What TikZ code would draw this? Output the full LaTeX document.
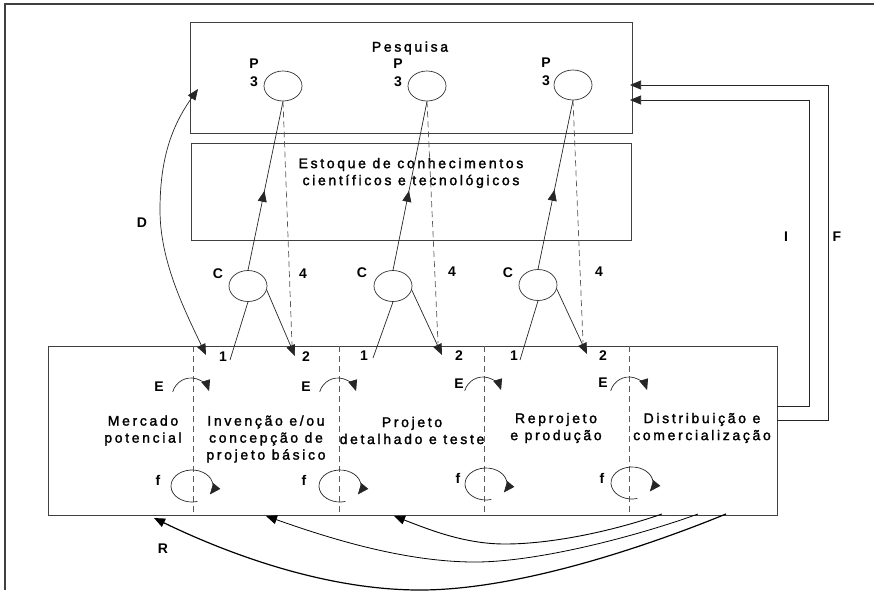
\documentclass[tikz,border=0pt]{standalone}
\usepackage{fontspec}
\setmainfont{Liberation Sans}[LetterSpace=10]
\newfontfamily\bodyf{Liberation Sans}[LetterSpace=19, FakeBold=1.8]
\usetikzlibrary{arrows.meta,shapes.geometric,decorations.markings}
\begin{document}
\begin{tikzpicture}[x=1pt,y=-1pt,
  line/.style={draw=black!85, line width=0.7pt},
  box/.style={draw=black!75, line width=0.8pt, rectangle, inner sep=0pt},
  oval/.style={draw=black!80, line width=0.7pt, ellipse, inner sep=0pt, minimum width=38pt, minimum height=30pt},
  dsh/.style={draw=black!65, line width=0.7pt, dash pattern=on 6pt off 4pt},
  tip/.style={-{Triangle[length=11pt,width=9pt]}},
  lbl/.style={font=\fontsize{14}{16}\selectfont\bfseries, inner sep=0pt},
  txt/.style={font=\bodyf\fontsize{14}{17}\selectfont, align=center, inner sep=0pt},
  midtip/.style={postaction={decorate}, decoration={markings, mark=at position #1 with {\arrow{Triangle[length=11pt,width=9pt]}}}},
  fb/.style={draw=black, line width=#1},
]
\useasboundingbox (0,0) rectangle (874,590);
% outer frame
\draw[black!75, line width=1.8pt] (5,590) -- (5,4) -- (874,4);

% boxes
\node[box, minimum width=442pt, minimum height=111pt] (pesq) at (411,77.5) {};
\node[txt] (pesqt) at (410,48) {Pesquisa};
\node[box, minimum width=440pt, minimum height=97pt] (estq) at (411,191.5) {};
\node[txt] (estqt) at (411,173) {Estoque de conhecimentos\\científicos e tecnológicos};
\node[box, minimum width=729pt, minimum height=169pt] (etap) at (412.5,430.5) {};

% P3 ovals
\node[oval] (p1) at (283,86) {};
\node[oval] (p2) at (427,86) {};
\node[oval] (p3) at (573,85) {};
\foreach \x/\y [count=\i] in {254/64, 398/64, 546/63} {
  \node[lbl] (pl\i) at (\x,\y) {P};
  \node[lbl] (pn\i) at (\x,\y+18) {3};
}

% C ovals
\node[oval, minimum height=31pt] (c1) at (248,286) {};
\node[oval, minimum height=31pt] (c2) at (393,286) {};
\node[oval, minimum height=31pt] (c3) at (538,285) {};
\node[lbl] (cl1) at (218,274) {C};
\node[lbl] (cl2) at (362,273) {C};
\node[lbl] (cl3) at (508,273) {C};
\node[lbl] (f41) at (303,274) {4};
\node[lbl] (f42) at (452,272) {4};
\node[lbl] (f43) at (599,272) {4};

% coordinates at the process box
\coordinate (o1) at (230,360);
\coordinate (o2) at (373,358);
\coordinate (o3) at (520,360);
\coordinate (t1) at (295,356);
\coordinate (t2) at (442,355);
\coordinate (t3) at (587,354);
\coordinate (d1) at (292,345);
\coordinate (d2) at (438,343);
\coordinate (d3) at (583,342);
\node[lbl] (n11) at (223,357) {1};
\node[lbl] (n12) at (364,356) {1};
\node[lbl] (n13) at (514,356) {1};
\node[lbl] (n21) at (306,357) {2};
\node[lbl] (n22) at (459,356) {2};
\node[lbl] (n23) at (603,356) {2};

% lines 1 -> C -> P
\foreach \i in {1,2,3} {
  \draw[line] (o\i) -- (c\i.south);
  \draw[line, midtip=0.47] (c\i.north) -- (p\i.south);
  \draw[line, tip] (c\i.-12) -- (t\i);
  \draw[dsh] (p\i.south) -- (d\i);
}

% dividers
\foreach \x in {193,339,484,629} {
  \draw[dsh] (\x,346) -- (\x,515);
}

% E arcs
\coordinate (e1) at (191,397);
\coordinate (e2) at (338,397);
\coordinate (e3) at (483,396);
\coordinate (e4) at (629,396);
\foreach \i in {1,2,3,4} {
  \draw[line, tip] ([shift={(164:19pt)}]e\i) arc[start angle=164, end angle=18, radius=19pt];
}
\node[lbl] (el1) at (159,387) {E};
\node[lbl] (el2) at (306,387) {E};
\node[lbl] (el3) at (459,384) {E};
\node[lbl] (el4) at (603,383) {E};

% f loops
\coordinate (g1) at (192,486);
\coordinate (g2) at (340,486);
\coordinate (g3) at (486,484);
\coordinate (g4) at (632,483);
\foreach \i in {1,2,3,4} {
  \draw[line, tip] ([shift={(285:21pt and 16pt)}]g\i) arc[start angle=285, end angle=-32, x radius=21pt, y radius=16pt];
}
\node[lbl] (fl1) at (158,480) {f};
\node[lbl] (fl2) at (304,480) {f};
\node[lbl] (fl3) at (458,478) {f};
\node[lbl] (fl4) at (602,478) {f};

% stage texts
\node[txt] (s1) at (143,430.5) {Mercado\\potencial};
\node[txt] (s2) at (266,439) {Invenção e/ou\\concepção de\\projeto básico};
\node[txt] (s3) at (412,430.5) {Projeto\\detalhado e teste};
\node[txt] (s4) at (556,428) {Reprojeto\\e produção};
\node[txt] (s5) at (702,428) {Distribuição e\\comercialização};

% D curve
\coordinate (db) at (206,355);
\coordinate (dt) at (198,89);
\draw[line, {Triangle[length=11pt,width=9pt]}-{Triangle[length=11pt,width=9pt]}]
  (db) .. controls (183,307) and (160,260) .. (160,210) .. controls (160,160) and (171,127) .. (dt);
\node[lbl] (dl) at (142,223) {D};

% I and F feedback
\coordinate (ia) at (777,406);
\coordinate (ib) at (809,406);
\coordinate (ic) at (809,100);
\coordinate (id) at (630,100);
\coordinate (fa) at (777,420);
\coordinate (fbb) at (828,420);
\coordinate (fc) at (828,85);
\coordinate (fd) at (630,85);
\draw[line, tip] (ia) -- (ib) -- (ic) -- (id);
\draw[line, tip] (fa) -- (fbb) -- (fc) -- (fd);
\node[lbl] (il) at (786,237) {I};
\node[lbl] (fl) at (837,237) {F};

% R curves
\coordinate (ra) at (662,514);
\coordinate (rb) at (698,514);
\coordinate (rc) at (726,514);
\coordinate (ta) at (394,516);
\coordinate (tb) at (266,516);
\coordinate (tc) at (154,518);
\draw[fb=0.9pt, tip] (ra) .. controls (610,532) and (550,544) .. (505,544) .. controls (465,544) and (430,530) .. (ta);
\draw[fb=0.8pt, tip] (rb) .. controls (640,535) and (540,562) .. (475,562) .. controls (400,562) and (320,535) .. (tb);
\draw[fb=1.2pt, tip] (rc) .. controls (650,545) and (520,590) .. (420,590) .. controls (320,590) and (220,550) .. (tc);
\node[lbl] (rl) at (163,549) {R};
\end{tikzpicture}
\end{document}
